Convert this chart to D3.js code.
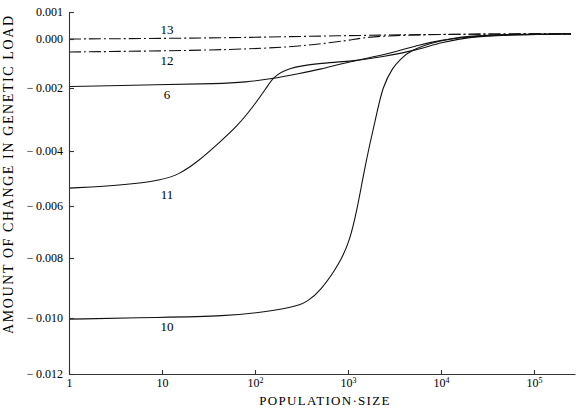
<!DOCTYPE html>
<html>
<head>
    <script src="https://d3js.org/d3.v7.min.js"></script>
    <style>
        body { margin: 0; background: #fff; }
        text { font-family: 'Liberation Serif', 'DejaVu Serif', serif; fill: #000; }
        .axis path, .axis line { stroke: #333; stroke-width: 1.1; }
        .axis text { font-size: 12px; fill: #000; }
        .curve { fill: none; stroke: #111; stroke-width: 1.1; }
        .dashdot { stroke-dasharray: 12,3,2,3; }
        .curve-label { font-size: 13px; text-anchor: middle; }
    </style>
</head>
<body>
    <svg width="576" height="408"></svg>
    <script>
        // axis ticks
        const popTicks = [1, 10, 100, 1000, 10000, 100000];
        const popTickBase = ["1", "10", "10", "10", "10", "10"];
        const popTickExp = ["", "", "2", "3", "4", "5"];
        const loadTicks = [0.001, 0, -0.002, -0.004, -0.006, -0.008, -0.010, -0.012];
        const loadTickLabels = ["0.001", "0.000", "\u2212\u20090.002", "\u2212\u20090.004", "\u2212\u20090.006",
                                "\u2212\u20090.008", "\u2212\u20090.010", "\u2212\u20090.012"];

        // curves (population size, change in load)
        const curve13N = [1, 10, 100, 500, 3000, 10000, 50000, 250000];
        const curve13 = [0, 0.00002, 0.00006, 0.00011, 0.00015, 0.00017, 0.00019, 0.00019];

        const curve12N = [1, 10, 100, 300, 500, 1000, 1500, 3000, 10000, 50000, 250000];
        const curve12 = [-0.00053, -0.00049, -0.00041, -0.00029, -0.0002, -0.00006, 0.00006, 0.00013, 0.00017, 0.00019, 0.00019];

        const curve6N = [1, 10, 40, 80, 150, 300, 500, 1000, 3000, 5500, 10000, 20000, 40000, 250000];
        const curve6 = [-0.00194, -0.00186, -0.00183, -0.00176, -0.00163, -0.00141, -0.00124, -0.00094, -0.00057, -0.00026, -0.00004, 0.00008, 0.00015, 0.00019];

        const curve11N = [1, 4, 10, 15, 25, 40, 65, 95, 135, 155, 220, 500, 1000, 2400, 5500, 10000, 20000, 45000, 250000];
        const curve11 = [-0.00535, -0.00524, -0.00505, -0.00487, -0.00435, -0.00377, -0.00320, -0.0026, -0.00196, -0.00158, -0.00118, -0.00098, -0.00093, -0.00073, -0.00045, -0.00014, 0.00007, 0.00015, 0.00019];

        const curve10N = [1, 10, 50, 110, 220, 300, 360, 500, 820, 1050, 1250, 1450, 1720, 2050, 2350, 3050, 3600, 4650, 10000, 20000, 45000, 250000];
        const curve10 = [-0.01004, -0.00998, -0.00993, -0.00982, -0.00968, -0.00957, -0.00946, -0.00912, -0.00817, -0.00731, -0.00615, -0.00495, -0.00375, -0.00279, -0.00196, -0.00114, -0.00086, -0.00045, -0.00004, 0.00011, 0.00017, 0.00019];

        const curveNames = ["13", "12", "6", "11", "10"];
        const curveXs = [curve13N, curve12N, curve6N, curve11N, curve10N];
        const curveYs = [curve13, curve12, curve6, curve11, curve10];

        let svg = d3.select("svg");

        // scales (the scanned axis is slightly uneven, so the y scale follows its ticks)
        let x = d3.scaleLog()
                  .domain([1, 276000])
                  .range([69, 575]);

        let y = d3.scaleLinear()
                  .domain(loadTicks)
                  .range([12, 39, 88, 151, 206, 258, 318, 374]);

        // curves
        let line = d3.line()
            .x(d => x(d[0]))
            .y(d => y(d[1]))
            .curve(d3.curveBasis);

        curveNames.forEach((name, i) => {
            let pts = curveXs[i].map((n, j) => [n, curveYs[i][j]]);
            svg.append("path")
               .datum(pts)
               .attr("class", "curve" + (name === "13" || name === "12" ? " dashdot" : ""))
               .attr("d", line);

            // label sits just below its curve near N = 10 (13 goes above)
            let ly = y(curveYs[i][1]);
            svg.append("text")
               .attr("class", "curve-label")
               .attr("x", x(10) + 5)
               .attr("y", name === "13" ? ly - 4 : ly + 14)
               .text(name);
        });

        // axes
        svg.append("g")
           .attr("class", "axis")
           .attr("transform", "translate(69,0)")
           .call(d3.axisLeft(y)
                   .tickValues(loadTicks)
                   .tickSizeInner(-5)
                   .tickSizeOuter(0)
                   .tickPadding(6)
                   .tickFormat((d, i) => loadTickLabels[i]));

        let xAxis = svg.append("g")
           .attr("class", "axis")
           .attr("transform", "translate(0,374)")
           .call(d3.axisBottom(x)
                   .tickValues(popTicks)
                   .tickSizeInner(-4)
                   .tickSizeOuter(0)
                   .tickPadding(4)
                   .tickFormat(""));

        xAxis.selectAll(".tick text").each(function(d, i) {
            let t = d3.select(this).text("");
            t.append("tspan").text(popTickBase[i]);
            if (popTickExp[i]) {
                t.append("tspan")
                 .attr("dy", "-0.4em")
                 .attr("font-size", "8px")
                 .text(popTickExp[i]);
            }
        });

        // axis titles
        svg.append("text")
           .attr("x", 325)
           .attr("y", 405)
           .attr("text-anchor", "middle")
           .attr("font-size", "13px")
           .attr("letter-spacing", "1.3px")
           .text("POPULATION\u00B7SIZE");

        svg.append("text")
           .attr("transform", "translate(13,334) rotate(-90)")
           .attr("text-anchor", "start")
           .attr("font-size", "14px")
           .attr("letter-spacing", "1.6px")
           .text("AMOUNT OF CHANGE IN GENETIC LOAD");
    </script>
</body>
</html>
